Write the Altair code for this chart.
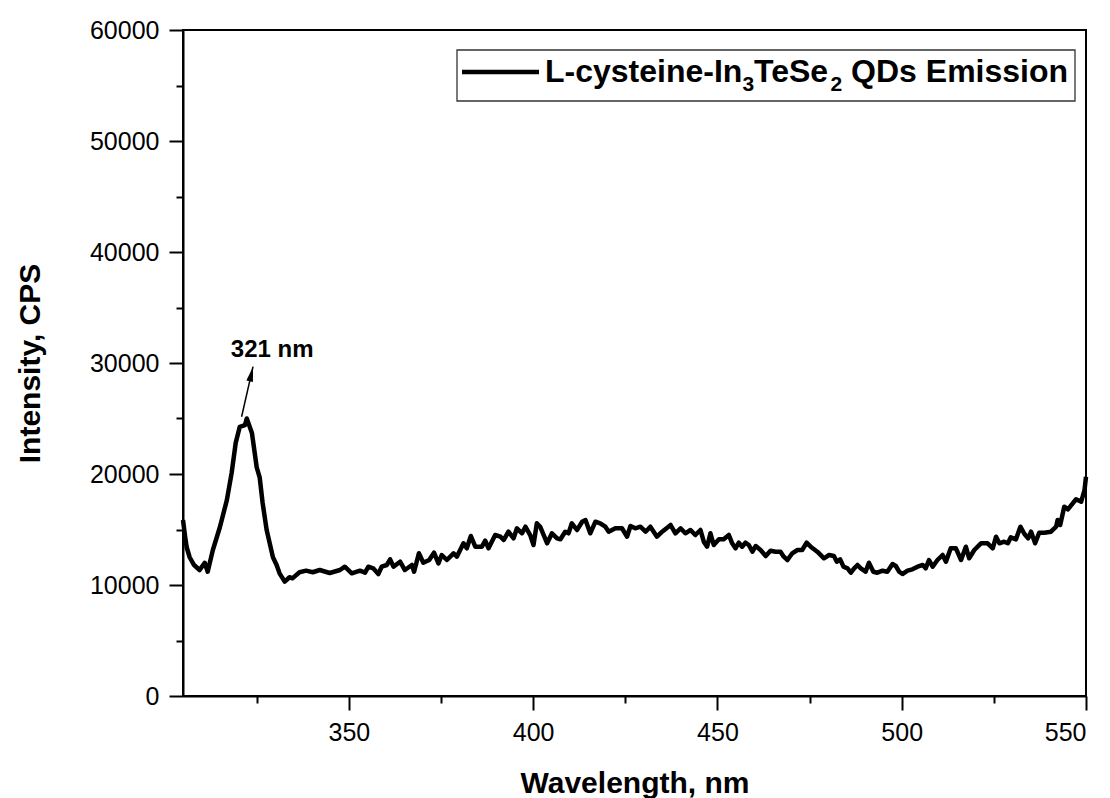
import altair as alt
import pandas as pd

# ---- data ----
wavelength = [
    305.0, 305.6, 306.0, 306.8, 308.0, 309.5, 310.9, 311.7, 313.1, 315.0,
    316.9, 318.2, 319.3, 320.4, 321.8, 322.3, 323.7, 325.0, 325.8, 326.6,
    327.7, 329.4, 330.4, 331.2, 332.6, 333.9, 334.7, 336.6, 338.4, 340.2,
    342.1, 344.8, 347.6, 348.9, 350.8, 353.0, 354.4, 355.3, 356.6, 358.0,
    358.9, 360.3, 361.2, 362.1, 363.9, 365.2, 367.1, 367.7, 369.0, 370.2,
    371.8, 373.1, 374.3, 375.2, 376.6, 378.4, 379.3, 381.1, 382.0, 383.1,
    384.3, 386.1, 387.0, 387.9, 389.7, 391.1, 392.0, 393.3, 394.7, 395.6,
    397.0, 397.9, 399.2, 400.1, 401.0, 401.9, 403.8, 405.1, 406.5, 407.4,
    408.7, 409.6, 410.5, 411.9, 413.3, 414.2, 415.5, 416.9, 418.2, 419.6,
    420.5, 422.3, 424.1, 425.5, 426.4, 427.7, 429.1, 430.5, 431.8, 433.6,
    435.0, 437.3, 438.6, 440.0, 441.3, 442.7, 444.0, 445.4, 446.3, 447.2,
    448.1, 449.0, 450.4, 451.7, 453.1, 454.0, 454.9, 455.8, 456.7, 457.6,
    458.5, 459.5, 460.4, 461.7, 463.1, 464.4, 465.8, 467.1, 468.0, 469.0,
    470.3, 471.7, 473.0, 474.2, 475.3, 477.1, 478.9, 480.3, 481.6, 482.4,
    483.3, 484.2, 485.3, 486.2, 487.1, 488.0, 488.9, 490.2, 491.1, 492.3,
    493.4, 494.8, 496.1, 497.5, 498.4, 499.3, 500.2, 501.6, 502.9, 504.3,
    505.7, 506.5, 507.4, 508.4, 509.7, 511.1, 512.0, 513.3, 514.7, 516.1,
    517.4, 518.3, 519.7, 521.5, 523.3, 524.7, 525.6, 526.5, 527.8, 528.8,
    529.6, 531.0, 532.2, 533.3, 534.3, 535.1, 536.2, 537.3, 538.7, 540.5,
    541.9, 542.3, 543.0, 544.1, 545.1, 546.4, 547.3, 548.7, 549.6, 550.0,
]
intensity = [
    15860, 14300, 13400, 12500, 11800, 11350, 12000, 11200, 13150, 15200,
    17650, 20100, 22800, 24250, 24400, 25000, 23700, 20600, 19700, 17400,
    14950, 12500, 11800, 11050, 10300, 10700, 10600, 11150, 11290, 11150,
    11350, 11080, 11351, 11649, 11054, 11288, 11108, 11649, 11505, 10991,
    11649, 11802, 12315, 11649, 12099, 11351, 11802, 11198, 12856, 12009,
    12252, 12910, 11955, 12703, 12252, 12856, 12550, 13757, 13306, 14414,
    13450, 13450, 13991, 13306, 14504, 14351, 14054, 14802, 14207, 15108,
    14658, 15252, 14504, 13604, 15558, 15252, 13757, 14658, 14207, 14117,
    14802, 14658, 15558, 14955, 15703, 15856, 14658, 15703, 15558, 15252,
    14802, 15108, 15108, 14351, 15315, 15108, 15252, 14802, 15252, 14351,
    14802, 15405, 14658, 15108, 14658, 14955, 14504, 14955, 13901, 13450,
    14658, 13604, 14117, 14117, 14504, 13757, 13306, 13811, 13450, 13811,
    13604, 13000, 13514, 13153, 12613, 13090, 13000, 13000, 12550, 12252,
    12856, 13153, 13153, 13811, 13450, 13000, 12405, 12703, 12613, 12099,
    12315, 11649, 11505, 11108, 11505, 11802, 11505, 11198, 12009, 11198,
    11108, 11288, 11198, 11892, 11712, 11198, 10991, 11288, 11414, 11649,
    11802, 11505, 12252, 11649, 12252, 12703, 12099, 13306, 13306, 12252,
    13450, 12405, 13153, 13757, 13757, 13306, 14351, 13757, 13901, 13757,
    14297, 14117, 15252, 14595, 14207, 14802, 13757, 14712, 14712, 14802,
    15252, 15856, 15405, 17054, 16820, 17360, 17721, 17504, 18559, 19757,
]

x_ticks = [325, 350, 375, 400, 425, 450, 475, 500, 525, 550]
y_ticks = [0, 5000, 10000, 15000, 20000, 25000, 30000, 35000, 40000,
           45000, 50000, 55000, 60000]

peak_label = ["321 nm"]
peak_label_pos_wl = [329.2]
peak_label_pos_val = [30540]
arrow_start_wl = [320.9]
arrow_start_val = [25160]
arrow_tip_wl = [324.0]
arrow_tip_val = [29666]

# legend label pieces (main text and subscripts)
legend_pieces = ["L-cysteine-In", "3", "TeSe", "2", " QDs Emission"]
legend_is_sub = [False, True, False, True, False]

x_title = "Wavelength, nm"
y_title = "Intensity, CPS"

FONT = "Liberation Sans"

df = pd.DataFrame({"wl": wavelength, "val": intensity})
df_lab = pd.DataFrame({"wl": peak_label_pos_wl, "val": peak_label_pos_val, "txt": peak_label})
df_arrow = pd.DataFrame({"wl": arrow_start_wl, "val": arrow_start_val,
                         "wl2": arrow_tip_wl, "val2": arrow_tip_val})
df_tip = pd.DataFrame({"wl": arrow_tip_wl, "val": arrow_tip_val})
df_one = pd.DataFrame({"k": [0]})

xscale = alt.Scale(domain=[305, 550], nice=False, zero=False)
yscale = alt.Scale(domain=[0, 60000], nice=False)

xaxis = alt.Axis(
    values=x_ticks, title=x_title, format="d",
    labelExpr="datum.value % 50 == 0 ? datum.label : ''",
    tickSize={"condition": {"test": "datum.value % 50 != 0", "value": 7}, "value": 14},
    labelPadding=10, titleY=96, titleBaseline="alphabetic",
)
yaxis = alt.Axis(
    values=y_ticks, title=y_title, format="d",
    labelExpr="datum.value % 10000 == 0 ? datum.label : ''",
    tickSize={"condition": {"test": "datum.value % 10000 != 0", "value": 7}, "value": 14},
    labelPadding=10, titleX=-153, titleBaseline="middle",
)

line = alt.Chart(df).mark_line(color="black", strokeWidth=4.5, strokeJoin="round").encode(
    x=alt.X("wl:Q", scale=xscale, axis=xaxis),
    y=alt.Y("val:Q", scale=yscale, axis=yaxis),
)

peak_text = alt.Chart(df_lab).mark_text(
    font=FONT, fontSize=24, fontWeight="bold", color="black",
    align="center", baseline="alphabetic",
).encode(
    x=alt.X("wl:Q", scale=xscale), y=alt.Y("val:Q", scale=yscale), text="txt:N"
)

arrow_line = alt.Chart(df_arrow).mark_rule(color="black", strokeWidth=1.5).encode(
    x=alt.X("wl:Q", scale=xscale), y=alt.Y("val:Q", scale=yscale),
    x2="wl2:Q", y2="val2:Q",
)

arrow_head = alt.Chart(df_tip).mark_point(
    shape="M0,0 L-0.45,2 L0.45,2 Z", filled=True, color="black",
    size=225, angle=13, opacity=1,
).encode(x=alt.X("wl:Q", scale=xscale), y=alt.Y("val:Q", scale=yscale))

legend_box = alt.Chart(df_one).mark_rect(
    fill="white", stroke="#333333", strokeWidth=1.3
).encode(
    x=alt.value(274), x2=alt.value(892), y=alt.value(20), y2=alt.value(71)
)
legend_line = alt.Chart(df_one).mark_rule(color="black", strokeWidth=4.5).encode(
    x=alt.value(279), x2=alt.value(356), y=alt.value(42)
)

# Liberation Sans Bold advance widths (per 1000 em) for laying out the legend label
ADV = {"L": 611, "-": 333, "c": 556, "y": 556, "s": 556, "t": 333, "e": 556,
       "i": 278, "n": 611, "I": 278, "T": 611, "S": 667, " ": 278, "Q": 778,
       "D": 722, "E": 667, "m": 889, "o": 611, "2": 556, "3": 556}
MAIN_FS, SUB_FS = 32, 21
legend_layers = []
cursor = 362.0
for piece, sub in zip(legend_pieces, legend_is_sub):
    fs = SUB_FS if sub else MAIN_FS
    # leading spaces are collapsed by the renderer: advance the cursor instead
    lead = len(piece) - len(piece.lstrip(" "))
    cursor += lead * ADV[" "] / 1000.0 * fs
    shown = piece.lstrip(" ")
    legend_layers.append(
        alt.Chart(pd.DataFrame({"txt": [shown]})).mark_text(
            font=FONT, fontSize=fs, fontWeight="bold", color="black",
            align="left", baseline="alphabetic",
        ).encode(x=alt.value(cursor), y=alt.value(61 if sub else 52), text="txt:N")
    )
    cursor += sum(ADV.get(ch, 556) for ch in shown) / 1000.0 * fs

chart = alt.layer(
    line, arrow_line, arrow_head, peak_text, legend_box, legend_line, *legend_layers
).properties(
    width=903, height=666,
    autosize=alt.AutoSizeParams(type="none"),
    padding={"left": 183, "top": 30, "right": 24, "bottom": 102},
    background="white",
).configure_view(
    stroke="black", strokeWidth=2
).configure_axis(
    grid=False,
    domainColor="black", domainWidth=2,
    tickColor="black", tickWidth=2,
    labelFont=FONT, labelFontSize=25, labelColor="black",
    titleFont=FONT, titleFontSize=30, titleFontWeight="bold", titleColor="black",
)

chart.save("out.html", embed_options={"renderer": "svg", "actions": False})
